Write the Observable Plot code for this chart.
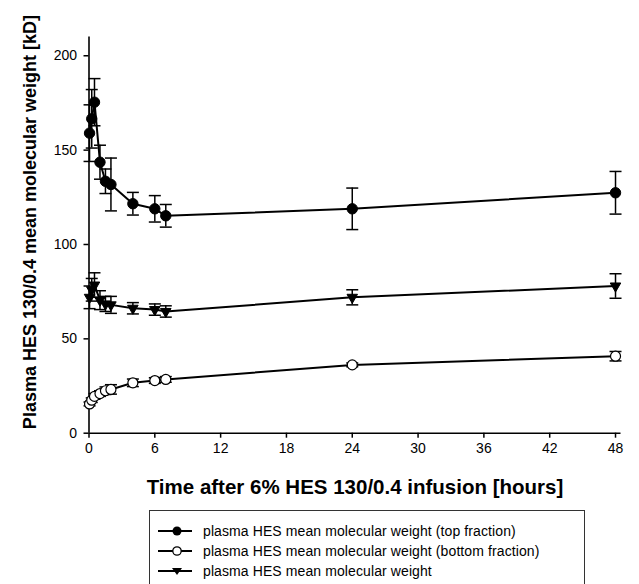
<!DOCTYPE html>
<html>
<head>
<meta charset="utf-8">
<script src="https://cdn.jsdelivr.net/npm/d3@7"></script>
<script src="https://cdn.jsdelivr.net/npm/@observablehq/plot@0.6"></script>
<style>
  html, body { margin: 0; padding: 0; background: #fff; }
  #wrap { position: relative; width: 639px; height: 584px; overflow: hidden; font-family: "Liberation Sans", Arial, sans-serif; }
  #chart { position: absolute; left: 0; top: 0; }
  #legend { position: absolute; left: 149px; top: 510px; width: 436px; height: 100px; border: 1px solid #333; box-sizing: border-box; background: #fff; }
  .row { position: absolute; left: 7px; height: 16px; display: flex; align-items: center; font-size: 14px; color: #000; white-space: nowrap; letter-spacing: 0.1px; }
  .row svg { margin-right: 10px; }
</style>
</head>
<body>
<div id="wrap">
  <div id="chart"></div>
  <div id="legend"></div>
</div>
<script>
// ---- data ----
const times = [0.05, 0.25, 0.5, 1, 1.5, 2, 4, 6, 7, 24, 48];
const topFraction = [159, 166.6, 175.4, 143.6, 133.5, 131.8, 121.6, 118.9, 115.2, 118.9, 127.4];
const topErr = [15, 15.5, 12.5, 9, 6.5, 14, 6, 7, 6, 11, 11.3];
const bottomFraction = [15.5, 17.5, 19.5, 21, 22.5, 23.2, 26.7, 27.9, 28.5, 36.2, 40.8];
const bottomErr = [1, 1.2, 1.5, 1.5, 2, 2.5, 2, 1.5, 1.5, 1, 2.5];
const overall = [72, 76, 78.5, 70.5, 68.5, 68, 66.2, 65.5, 64.5, 72, 78];
const overallErr = [6, 6, 6.5, 5, 4, 4.5, 3, 3, 3, 4, 6.5];

const xTicks = [0, 6, 12, 18, 24, 30, 36, 42, 48];
const yTicks = [0, 50, 100, 150, 200];
const xLabel = "Time after 6% HES 130/0.4 infusion [hours]";
const yLabel = "Plasma HES 130/0.4 mean molecular weight [kD]";
const seriesNames = [
  "plasma HES mean molecular weight (top fraction)",
  "plasma HES mean molecular weight (bottom fraction)",
  "plasma HES mean molecular weight"
];

// ---- build table ----
const series = [
  {key: seriesNames[0], values: topFraction, err: topErr},
  {key: seriesNames[1], values: bottomFraction, err: bottomErr},
  {key: seriesNames[2], values: overall, err: overallErr}
];
const rows = [];
series.forEach(s => times.forEach((t, i) => rows.push({t, v: s.values[i], e: s.err[i], key: s.key})));
const rowsOf = k => rows.filter(d => d.key === k);

const cap = {draw(context, size) { const w = Math.sqrt(size / Math.PI); context.moveTo(-w, 0); context.lineTo(w, 0); }};

const chart = Plot.plot({
  width: 639,
  height: 500,
  marginLeft: 88.5,
  marginRight: 18.5,
  marginTop: 36.4,
  marginBottom: 67.3,
  style: {fontFamily: "Liberation Sans, Arial, sans-serif", fontSize: "14px", color: "#000", background: "#fff"},
  x: {domain: [0, 48.5]},
  y: {domain: [0, 210]},
  marks: [
    Plot.axisX({ticks: xTicks, tickSize: 5, tickPadding: 5, strokeWidth: 1.5, label: null, fontSize: 14}),
    Plot.axisY({ticks: yTicks, tickSize: 5, tickPadding: 7, strokeWidth: 1.5, label: null, fontSize: 14}),
    Plot.ruleY([0], {stroke: "black", strokeWidth: 1.6}),
    Plot.ruleX([0], {stroke: "black", strokeWidth: 1.6}),
    Plot.line(rows, {x: "t", y: "v", z: "key", stroke: "black", strokeWidth: 2}),
    Plot.ruleX(rows, {x: "t", y1: d => d.v - d.e, y2: d => d.v + d.e, stroke: "black", strokeWidth: 1.5}),
    Plot.dot(rows, {x: "t", y: d => d.v + d.e, symbol: cap, r: 6, fill: "none", stroke: "black", strokeWidth: 1.5}),
    Plot.dot(rows, {x: "t", y: d => d.v - d.e, symbol: cap, r: 6, fill: "none", stroke: "black", strokeWidth: 1.5}),
    Plot.dot(rowsOf(seriesNames[0]), {x: "t", y: "v", r: 5.2, fill: "black", stroke: "black", strokeWidth: 1}),
    Plot.dot(rowsOf(seriesNames[1]), {x: "t", y: "v", r: 5, fill: "white", stroke: "black", strokeWidth: 1.2}),
    Plot.dot(rowsOf(seriesNames[2]), {x: "t", y: "v", symbol: "triangle", r: 3.9, rotate: 180, fill: "black", stroke: "black", strokeWidth: 1}),
    Plot.text([xLabel], {text: d => d, frameAnchor: "bottom", textAnchor: "middle", lineAnchor: "middle", dy: 54, fontSize: 20.5, fontWeight: "bold"}),
    Plot.text([yLabel], {text: d => d, frameAnchor: "left", textAnchor: "middle", lineAnchor: "middle", rotate: -90, dx: -58.5, dy: -13, fontSize: 18, fontWeight: "bold"})
  ]
});
document.getElementById("chart").appendChild(chart);

// ---- legend ----
const legend = document.getElementById("legend");
const swatch = i => {
  let sym = "";
  if (i === 0) sym = '<circle cx="20" cy="8" r="4.5" fill="black"/>';
  if (i === 1) sym = '<circle cx="20" cy="8" r="4.2" fill="white" stroke="black" stroke-width="1.3"/>';
  if (i === 2) sym = '<path d="M15 5 L25 5 L20 12 Z" fill="black"/>';
  return `<svg width="36" height="16"><line x1="1" y1="8" x2="35" y2="8" stroke="black" stroke-width="2"/>${sym}</svg>`;
};
seriesNames.forEach((name, i) => {
  const r = document.createElement("div");
  r.className = "row";
  r.style.top = (12 + i * 20) + "px";
  r.innerHTML = swatch(i) + `<span>${name}</span>`;
  legend.appendChild(r);
});
</script>
</body>
</html>
